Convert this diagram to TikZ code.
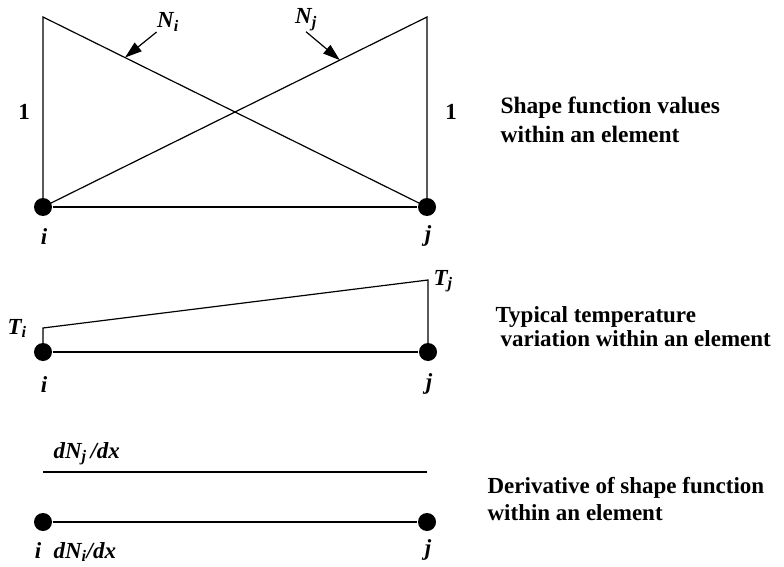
\documentclass[tikz,border=0pt]{standalone}
\usepackage{fontspec}
\setmainfont{Liberation Serif}
\usetikzlibrary{arrows.meta}

\begin{document}
\begin{tikzpicture}[x=1pt,y=-1pt,line width=1.2pt,dot/.style={circle,fill=black,inner sep=0pt,minimum size=18pt},lab/.style={font=\fontsize{23}{26}\selectfont\bfseries\itshape,inner sep=0pt},num/.style={font=\fontsize{23}{26}\selectfont\bfseries,inner sep=0pt},note/.style={font=\fontsize{23}{29}\selectfont\bfseries,align=left,inner sep=0pt,anchor=north west},a/.style={-{Triangle[length=17pt,width=11pt]}}]
\useasboundingbox (0,0) rectangle (784,567);
% shape functions
\node[dot] (i1) at (43,207) {};
\node[dot] (j1) at (427,207) {};
\coordinate (ti1) at (43,17); \coordinate (tj1) at (427,17);
\draw (i1.center)--(ti1)--(j1.center); \draw (j1.center)--(tj1)--(i1.center);
\draw (i1)--(j1);
\path (ti1)--(j1.center) coordinate[pos=.2135] (pNi);
\path (i1.center)--(tj1) coordinate[pos=.773] (pNj);
\node[lab] (lNi) at (168,22) {N\textsubscript{i}};
\node[lab] (lNj) at (306,20) {N\textsubscript{j}};
\draw[a] (lNi.south west)--(pNi); \draw[a] (lNj.south)--(pNj);
\node[num] (one1) at (24,112) {1};
\node[num] (one2) at (451,112) {1};
\node[lab,anchor=base] (li1) at (44,244) {i};
\node[lab,anchor=base] (lj1) at (428,241) {j};
\node[note,font=\fontsize{23.5}{29}\selectfont\bfseries] (txt1) at (500,96) {Shape function values\\within an element};
% temperature
\node[dot] (i2) at (43,352) {};
\node[dot] (j2) at (428,352) {};
\coordinate (ti2) at (43,328); \coordinate (tj2) at (428,280);
\draw (i2.center)--(ti2)--(tj2)--(j2.center);
\draw (i2)--(j2);
\node[lab,anchor=base west] (lTi) at (7,334) {T\textsubscript{i}};
\node[lab,anchor=base west] (lTj) at (433,285) {T\textsubscript{j}};
\node[lab,anchor=base] (li2) at (44,392) {i};
\node[lab,anchor=base] (lj2) at (429,389) {j};
\node[note,font=\fontsize{23}{24}\selectfont\bfseries] (txt2) at (495,306) {Typical temperature\\\hspace{5pt}variation within an element};
% derivatives
\node[dot] (i3) at (43,522) {};
\node[dot] (j3) at (427,522) {};
\draw (i3)--(j3);
\coordinate (d1) at (43,472); \coordinate (d2) at (427,472);
\draw (d1)--(d2);
\node[lab,anchor=base west] (ldj) at (53,458) {dN\textsubscript{j}\,/dx};
\node[lab,anchor=base west] (ldi) at (53,558) {dN\textsubscript{i}/dx};
\node[lab,anchor=base] (li3) at (38,558) {i};
\node[lab,anchor=base] (lj3) at (428,555) {j};
\node[note,font=\fontsize{23}{27}\selectfont\bfseries] (txt3) at (487,477) {Derivative of shape function\\within an element};
\end{tikzpicture}
\end{document}
